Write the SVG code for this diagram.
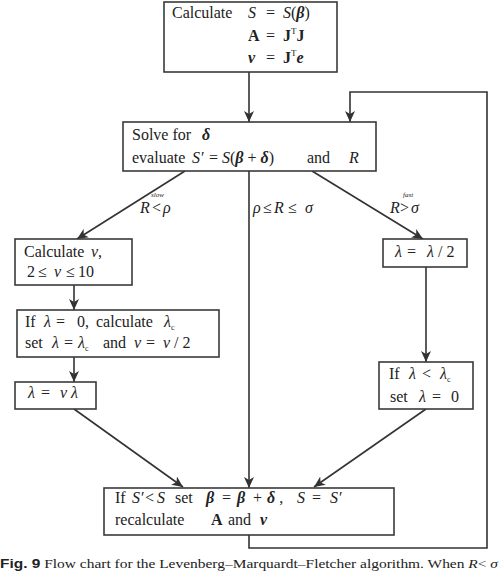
<svg xmlns="http://www.w3.org/2000/svg" width="500" height="572" viewBox="0 0 500 572">
<defs>
<marker id="ah" markerWidth="11" markerHeight="10" refX="11" refY="5" orient="auto" markerUnits="userSpaceOnUse">
<path d="M0,0 L11,5 L0,10 L3,5 z" fill="#333"/>
</marker>
<style>
rect.box{fill:#fff;stroke:#3a3a3a;stroke-width:1.6}
text{font-family:"Liberation Serif","Times New Roman",serif;font-size:16px;fill:#222}
.i{font-style:italic}
.b{font-weight:bold}
.bi{font-weight:bold;font-style:italic}
.sup{font-size:9px}
.sub{font-size:8px}
.tiny{font-size:7px;font-style:italic}
.conn path,.conn line{fill:none;stroke:#333;stroke-width:1.6}
.cap{font-size:12px}
</style>
</defs>
<rect width="500" height="572" fill="#fff"/>
<g class="conn" id="connectors">
<line x1="249" y1="72" x2="249" y2="122" marker-end="url(#ah)"/>
<path d="M249,535 V548 H487 V92 H350 V122" marker-end="url(#ah)"/>
<line x1="185" y1="171" x2="77" y2="239" marker-end="url(#ah)"/>
<line x1="249" y1="171" x2="249" y2="488" marker-end="url(#ah)"/>
<line x1="312" y1="171" x2="423" y2="239" marker-end="url(#ah)"/>
<line x1="74" y1="285" x2="74" y2="310" marker-end="url(#ah)"/>
<line x1="74" y1="357" x2="74" y2="382" marker-end="url(#ah)"/>
<line x1="426" y1="267" x2="426" y2="362" marker-end="url(#ah)"/>
<line x1="74" y1="409" x2="183" y2="487" marker-end="url(#ah)"/>
<line x1="426" y1="409" x2="314" y2="487" marker-end="url(#ah)"/>
</g>
<g id="n1">
<rect class="box" x="164" y="2" width="173" height="70"/>
<text x="172" y="18">Calculate</text>
<text x="248" y="18" class="i">S</text><text x="266" y="18">=</text><text x="283" y="18"><tspan class="i">S</tspan>(<tspan class="bi">β</tspan>)</text>
<text x="248" y="41" class="b">A</text><text x="266" y="41">=</text><text x="283" y="41"><tspan class="b">J</tspan><tspan class="sup" dy="-7">T</tspan><tspan class="b" dy="7">J</tspan></text>
<text x="248" y="63" class="bi">v</text><text x="266" y="63">=</text><text x="283" y="63"><tspan class="b">J</tspan><tspan class="sup" dy="-7">T</tspan><tspan class="bi" dy="7">e</tspan></text>
</g>
<g id="n2">
<rect class="box" x="123" y="122" width="253" height="49"/>
<text x="132" y="140">Solve for</text><text x="202" y="140" class="bi">δ</text>
<text x="132" y="163">evaluate</text><text x="192" y="163" class="i">S′</text><text x="209" y="163">=</text>
<text x="222" y="163"><tspan class="i">S</tspan>(<tspan class="bi">β</tspan> + <tspan class="bi">δ</tspan>)</text>
<text x="307" y="163">and</text><text x="349" y="163" class="i">R</text>
</g>
<g id="labels">
<text x="151" y="197" class="tiny">slow</text>
<text x="140" y="213" class="i">R</text><text x="152" y="213">&lt;</text><text x="163" y="213" class="i">ρ</text>
<text x="253" y="213" class="i">ρ</text><text x="263" y="213">≤</text><text x="274" y="213" class="i">R</text><text x="288" y="213">≤</text><text x="305" y="213" class="i">σ</text>
<text x="403" y="197" class="tiny">fast</text>
<text x="390" y="213" class="i">R</text><text x="400" y="213">&gt;</text><text x="411" y="213" class="i">σ</text>
</g>
<g id="n3">
<rect class="box" x="15" y="239" width="117" height="46"/>
<text x="24" y="257">Calculate</text><text x="91" y="257"><tspan class="i">ν</tspan>,</text>
<text x="27" y="277">2</text><text x="38" y="277">≤</text><text x="54" y="277" class="i">ν</text><text x="66" y="277">≤</text><text x="78" y="277">10</text>
</g>
<g id="n4">
<rect class="box" x="17" y="310" width="202" height="47"/>
<text x="25" y="327">If</text><text x="44" y="327" class="i">λ</text><text x="56" y="327">=</text><text x="77" y="327">0,</text><text x="96" y="327">calculate</text><text x="164" y="327"><tspan class="i">λ</tspan><tspan class="sub" dy="3">c</tspan></text>
<text x="25" y="348">set</text><text x="52" y="348" class="i">λ</text><text x="64" y="348">=</text><text x="78" y="348"><tspan class="i">λ</tspan><tspan class="sub" dy="3">c</tspan></text>
<text x="103" y="348">and</text><text x="134" y="348" class="i">ν</text><text x="146" y="348">=</text><text x="163" y="348"><tspan class="i">ν</tspan> / 2</text>
</g>
<g id="n5">
<rect class="box" x="15" y="382" width="81" height="27"/>
<text x="28" y="398" class="i">λ</text><text x="41" y="398">=</text><text x="60" y="398" class="i">ν λ</text>
</g>
<g id="n6">
<rect class="box" x="383" y="239" width="84" height="28"/>
<text x="395" y="257" class="i">λ</text><text x="407" y="257">=</text><text x="427" y="257"><tspan class="i">λ</tspan> / 2</text>
</g>
<g id="n7">
<rect class="box" x="379" y="362" width="94" height="47"/>
<text x="389" y="379">If</text><text x="409" y="379" class="i">λ</text><text x="422" y="379">&lt;</text><text x="440" y="379"><tspan class="i">λ</tspan><tspan class="sub" dy="3">c</tspan></text>
<text x="390" y="402">set</text><text x="419" y="402" class="i">λ</text><text x="432" y="402">=</text><text x="451" y="402">0</text>
</g>
<g id="n8">
<rect class="box" x="104" y="488" width="290" height="47"/>
<text x="115" y="503">If</text><text x="132" y="503" class="i">S′</text><text x="145" y="503">&lt;</text><text x="157" y="503" class="i">S</text>
<text x="175" y="503">set</text><text x="206" y="503" class="bi">β</text><text x="222" y="503">=</text><text x="237" y="503" class="bi">β</text><text x="253" y="503">+</text><text x="267" y="503"><tspan class="bi">δ</tspan> ,</text>
<text x="297" y="503" class="i">S</text><text x="312" y="503">=</text><text x="330" y="503" class="i">S′</text>
<text x="115" y="525">recalculate</text><text x="211" y="525" class="b">A</text><text x="228" y="525">and</text><text x="260" y="525" class="bi">v</text>
</g>
<text x="0" y="568" class="cap" textLength="498" lengthAdjust="spacingAndGlyphs"><tspan font-weight="bold" font-family="Liberation Sans, sans-serif">Fig. 9</tspan>  Flow chart for the Levenberg–Marquardt–Fletcher algorithm. When <tspan class="i">R</tspan>&lt; <tspan class="i">σ</tspan></text>
</svg>
